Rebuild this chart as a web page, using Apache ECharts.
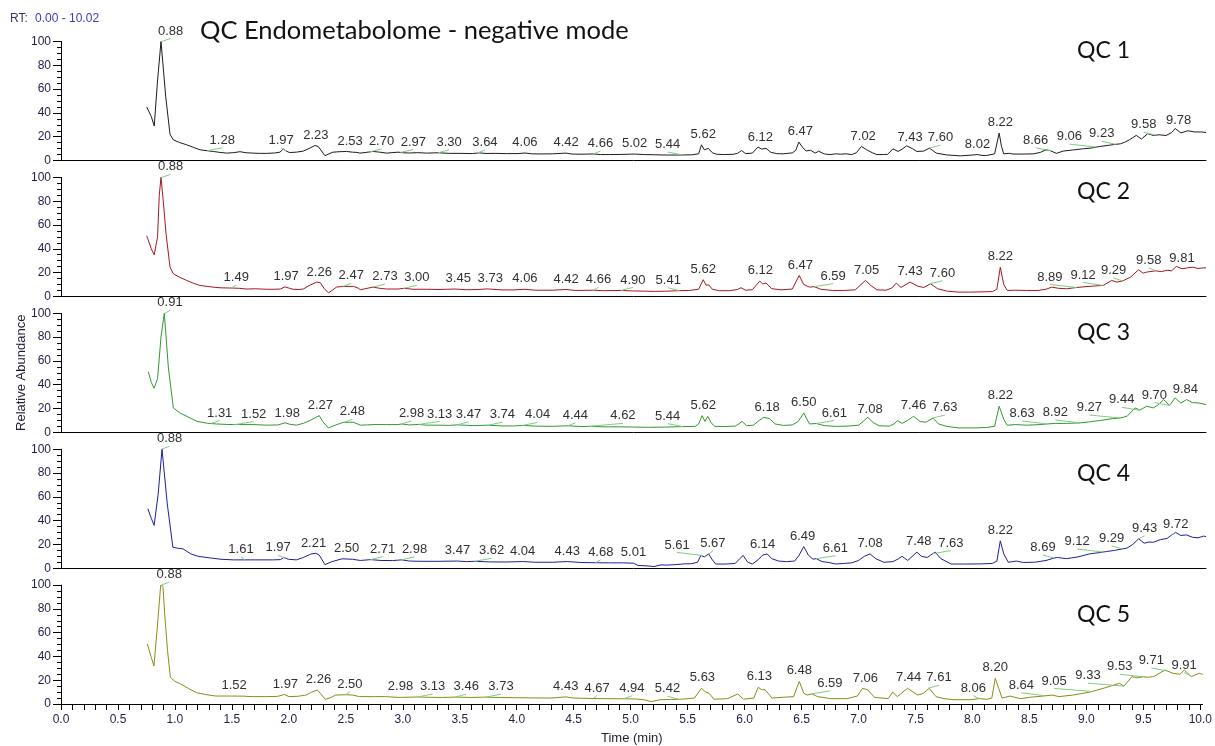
<!DOCTYPE html>
<html>
<head>
<meta charset="utf-8">
<title>QC Endometabolome - negative mode</title>
<script src="https://cdn.jsdelivr.net/npm/echarts@6/dist/echarts.min.js"></script>
<style>
  html, body { margin: 0; padding: 0; background: #ffffff; }
  #chart { width: 1215px; height: 746px; }
</style>
</head>
<body>
<div id="chart"></div>
<script>
// ---------------------------------------------------------------------------
// Chromatogram data: [retention time (min), relative abundance (%)]
// ---------------------------------------------------------------------------
const qc1Trace = [
  [0.75,45],[0.79,37],[0.816,29],[0.843,65],[0.875,100],[0.916,54],[0.954,22],[0.983,17.4],[1.04,15],[1.10,13.2],
  [1.16,11],[1.216,9],[1.28,8.2],[1.333,7.6],[1.39,6.8],[1.45,6.2],[1.51,6.6],[1.566,7.4],[1.62,6.5],[1.68,6.2],
  [1.74,6],[1.80,6],[1.87,6.3],[1.916,7],[1.945,9.6],[1.97,8],[2.0,6.7],[2.06,7],[2.12,7.9],[2.18,10.5],
  [2.222,12.6],[2.25,11.8],[2.28,8],[2.31,4],[2.345,5.6],[2.38,7],[2.44,7.4],[2.50,7.6],[2.55,7],[2.59,6.8],
  [2.616,6.2],[2.67,6.8],[2.73,7.6],[2.79,7],[2.85,6.2],[2.95,7],[2.99,6.5],[3.05,6.3],[3.12,6.6],[3.2,6.2],
  [3.30,6.5],[3.4,6],[3.5,6],[3.6,5.8],[3.66,6.4],[3.72,5.9],[3.8,6],[3.9,5.8],[4.0,5.8],[4.06,6.3],
  [4.12,5.6],[4.2,5.5],[4.3,5.6],[4.42,6.2],[4.47,5.4],[4.55,5.3],[4.66,5.5],[4.72,5],[4.8,5],[4.9,5.1],
  [5.02,5.4],[5.1,5],[5.2,4.8],[5.3,4.6],[5.44,4.6],[5.52,4.8],[5.58,5.6],[5.605,13.2],[5.63,9],[5.665,10.2],
  [5.70,6.5],[5.74,5.2],[5.80,5],[5.88,5.2],[5.92,6],[5.955,8.4],[5.99,5.8],[6.05,6.2],[6.10,11.3],[6.13,9.6],
  [6.17,10.2],[6.21,7],[6.26,5.8],[6.32,5.6],[6.40,6.4],[6.43,8.5],[6.457,15.5],[6.49,11],[6.52,8],[6.56,8.6],
  [6.60,6.2],[6.63,7.8],[6.68,5.5],[6.73,5],[6.78,5.6],[6.82,5.3],[6.87,5.6],[6.92,5],[6.96,6.5],[7.005,11.8],
  [7.05,9],[7.10,6.5],[7.14,5],[7.2,5],[7.235,5.2],[7.28,9.8],[7.325,7.6],[7.36,9.5],[7.40,12.3],[7.45,10],
  [7.49,7.6],[7.55,7.9],[7.60,10.4],[7.66,6.2],[7.75,4.7],[7.87,3.9],[7.98,4.6],[8.02,5],[8.06,4.3],[8.10,4.2],
  [8.17,5.6],[8.21,23],[8.23,12],[8.25,5.6],[8.30,6],[8.33,5.4],[8.42,5.4],[8.51,5.6],[8.57,6.8],[8.62,9],
  [8.66,8.2],[8.71,6],[8.77,7.9],[8.85,8.8],[8.94,9.8],[9.02,10.5],[9.09,11.8],[9.17,12.8],[9.23,13.6],[9.27,14],
  [9.31,15.4],[9.35,17.4],[9.41,21.1],[9.455,18],[9.51,22.6],[9.56,21],[9.61,21.6],[9.67,21],[9.72,23.5],[9.75,26.9],
  [9.80,23.2],[9.86,25],[9.92,24],[9.98,24],[10.02,23.5]
];
const qc2Trace = [
  [0.75,51],[0.79,40],[0.816,35],[0.845,50],[0.86,85],[0.875,100],[0.895,80],[0.92,52],[0.954,24.6],[0.983,19],
  [1.04,16],[1.10,13.4],[1.16,11],[1.216,9.2],[1.28,8.4],[1.33,7.8],[1.40,7.2],[1.50,7],[1.56,6.8],[1.62,6.2],
  [1.70,6.4],[1.80,6],[1.87,6],[1.92,6.2],[1.96,8],[2.0,6.8],[2.03,6],[2.08,5.8],[2.12,6.2],[2.18,9.5],
  [2.237,12],[2.27,11.5],[2.30,7],[2.34,3],[2.38,5.5],[2.41,7.8],[2.47,8.4],[2.56,8.4],[2.60,7],[2.62,5.6],
  [2.66,6.4],[2.73,7.8],[2.79,6.8],[2.85,6.2],[2.95,6.2],[3.00,6.8],[3.08,6],[3.2,6],[3.3,5.8],[3.45,6.2],
  [3.55,5.6],[3.65,5.8],[3.73,6.3],[3.85,5.5],[3.95,5.4],[4.06,6],[4.15,5.2],[4.3,5.2],[4.42,5.8],[4.5,5],
  [4.66,5.2],[4.75,4.8],[4.9,5],[5.0,4.6],[5.1,4.4],[5.2,4.2],[5.3,4.4],[5.41,4.8],[5.5,5],[5.58,6],
  [5.62,14],[5.645,9.5],[5.67,9.6],[5.70,6],[5.76,4.8],[5.85,4.8],[5.92,5.8],[5.95,7.3],[5.99,5.2],[6.05,5.6],
  [6.115,12.9],[6.14,10.5],[6.17,11.2],[6.22,6.5],[6.3,5.5],[6.40,6.2],[6.46,17.6],[6.50,10],[6.55,7.8],[6.59,8.2],
  [6.65,6],[6.75,5],[6.85,5],[6.95,5.5],[7.04,13.4],[7.09,9],[7.14,5.5],[7.22,5.2],[7.27,7],[7.31,11.2],
  [7.35,7.5],[7.43,12],[7.50,8.5],[7.55,7.5],[7.61,10.6],[7.67,6.5],[7.75,4.5],[7.85,3.6],[7.95,3.6],[8.05,3.8],
  [8.15,4],[8.19,6],[8.22,24.6],[8.25,10],[8.28,5],[8.35,5.2],[8.45,5],[8.55,5],[8.62,6],[8.67,7.8],
  [8.73,6.8],[8.80,6.4],[8.89,7.5],[8.97,8.2],[9.05,8.8],[9.12,9.2],[9.195,13.4],[9.24,12],[9.29,13],[9.36,16.2],
  [9.43,22.4],[9.47,19.5],[9.5,20.4],[9.58,21.5],[9.63,20.8],[9.68,22],[9.72,21.5],[9.76,25.2],[9.81,23.2],[9.86,24],
  [9.9,24.6],[9.95,23.5],[10.0,24],[10.02,24]
];
const qc3Trace = [
  [0.764,51],[0.79,42],[0.814,37],[0.845,45],[0.875,80],[0.904,100],[0.939,55],[0.983,20.5],[1.04,16.3],[1.12,12.5],
  [1.19,9.2],[1.28,7.6],[1.36,7],[1.45,6.6],[1.51,6.5],[1.60,6.5],[1.68,6.5],[1.80,6],[1.90,6.2],[1.96,8],
  [2.0,6.8],[2.06,6],[2.12,7.5],[2.18,10],[2.26,14],[2.29,9],[2.34,3.7],[2.40,6],[2.47,8.4],[2.56,8.4],
  [2.62,6],[2.68,6.2],[2.73,6.5],[2.85,6.5],[2.95,6.5],[2.98,7],[3.05,6.2],[3.13,6.6],[3.2,6],[3.3,6],
  [3.4,5.8],[3.47,6.3],[3.6,5.6],[3.74,6],[3.85,5.4],[3.95,5.3],[4.04,5.8],[4.15,5.2],[4.3,5],[4.44,5.5],
  [4.55,4.8],[4.62,5],[4.75,4.6],[4.9,4.6],[5.0,4.4],[5.15,4.2],[5.3,4.4],[5.44,4.8],[5.55,5],[5.58,7],
  [5.61,14],[5.635,9.2],[5.66,13.4],[5.69,8],[5.72,5],[5.8,4.8],[5.9,5.2],[5.93,7],[5.96,9.2],[6.0,5.5],
  [6.06,6],[6.11,10],[6.15,12.6],[6.20,11.5],[6.25,7],[6.32,5.8],[6.40,6.2],[6.45,9],[6.50,16.2],[6.55,7],
  [6.61,7.4],[6.68,5.6],[6.78,5],[6.88,5.2],[6.98,6],[7.03,10],[7.06,12.6],[7.11,8],[7.16,5.5],[7.25,5.2],
  [7.29,7],[7.32,9.8],[7.36,7.5],[7.41,10],[7.46,13.4],[7.52,9],[7.57,8.5],[7.63,12],[7.68,7],[7.75,5],
  [7.85,3.7],[8.0,3.7],[8.1,4],[8.17,5],[8.21,21.9],[8.25,11],[8.28,5.9],[8.35,6.5],[8.45,6],[8.55,6.4],
  [8.63,7],[8.70,7.5],[8.8,7.5],[8.92,7.9],[9.0,8.8],[9.1,10],[9.2,11.5],[9.27,12],[9.33,13.5],[9.40,20.5],
  [9.44,18.5],[9.5,21.9],[9.56,20.5],[9.60,23],[9.65,27.5],[9.70,22.5],[9.75,28.9],[9.8,24.5],[9.85,27.5],[9.9,25],
  [9.95,24.7],[10.02,23.3]
];
const qc4Trace = [
  [0.76,50],[0.79,42],[0.815,36],[0.85,62],[0.884,100],[0.93,54],[0.979,17.6],[1.02,16.8],[1.067,16.3],[1.136,12],
  [1.20,10],[1.30,8.7],[1.40,7.5],[1.51,7],[1.61,7],[1.70,7],[1.85,7],[1.92,7.2],[1.95,9],[1.99,7.5],
  [2.06,7],[2.12,9],[2.19,12],[2.23,12.5],[2.26,11],[2.31,3],[2.37,5.5],[2.46,7.9],[2.55,7.5],[2.62,6.5],
  [2.71,7.2],[2.8,6.5],[2.9,6.4],[2.98,7],[3.05,6],[3.15,5.8],[3.3,5.8],[3.47,6],[3.55,5.5],[3.62,5.8],
  [3.75,5.3],[3.9,5.2],[4.04,5.6],[4.15,5],[4.3,5],[4.43,5.6],[4.55,4.8],[4.68,4.6],[4.8,4.5],[4.92,4.5],
  [5.01,4.2],[5.05,2.3],[5.12,2],[5.19,1.4],[5.25,2.8],[5.3,2.6],[5.38,3],[5.45,3.6],[5.52,3.8],[5.57,5],
  [5.60,10.7],[5.63,9.5],[5.667,12],[5.70,7],[5.73,3.5],[5.82,3.5],[5.9,4],[5.94,8],[5.97,10.7],[6.01,5],
  [6.05,3.5],[6.10,7],[6.14,11],[6.18,12],[6.22,8],[6.28,6],[6.35,5.5],[6.42,6],[6.46,11],[6.50,18.2],
  [6.54,11],[6.58,7.6],[6.61,8],[6.66,5.5],[6.72,4.8],[6.78,3.5],[6.85,4],[6.92,4.5],[6.98,6.5],[7.03,10],
  [7.08,12],[7.13,8],[7.20,5],[7.28,5.5],[7.33,8],[7.36,10],[7.41,6.5],[7.45,10],[7.49,13.5],[7.53,10],
  [7.58,9],[7.61,11],[7.65,13.5],[7.70,8],[7.79,3.5],[7.9,3.5],[8.05,3.6],[8.15,4],[8.19,6],[8.22,23],
  [8.25,12],[8.29,5],[8.36,6],[8.42,4.8],[8.52,5],[8.62,6.5],[8.69,8.5],[8.72,9],[8.8,8],[8.9,9.5],
  [9.0,12],[9.08,13],[9.15,14],[9.22,15],[9.28,16],[9.33,17],[9.38,20],[9.43,24.7],[9.48,21],[9.52,22],
  [9.56,21.8],[9.62,24],[9.68,25],[9.72,28],[9.755,30],[9.8,27.5],[9.85,28],[9.90,26],[9.95,25.5],[10.0,27],
  [10.02,26.5]
];
const qc5Trace = [
  [0.758,50.4],[0.79,40],[0.816,32],[0.85,70],[0.875,100],[0.895,99],[0.91,76],[0.935,45],[0.96,22.4],[1.0,19],
  [1.04,17.4],[1.12,13],[1.19,9.5],[1.28,7.8],[1.36,6.7],[1.50,6.7],[1.60,6.6],[1.68,6.2],[1.80,6.2],[1.90,6.4],
  [1.96,8],[2.0,6.2],[2.08,6.5],[2.15,7.5],[2.20,10],[2.25,11.8],[2.28,8.5],[2.32,3.9],[2.37,5.5],[2.41,7.5],
  [2.50,7.8],[2.56,7.5],[2.62,6.2],[2.75,6.2],[2.85,6.2],[2.95,5.6],[3.0,5.6],[3.13,5.9],[3.25,5.6],[3.35,5.5],
  [3.46,5.8],[3.6,5.5],[3.73,5.8],[3.85,5.4],[4.0,5.3],[4.15,5.1],[4.3,5],[4.43,6],[4.5,5],[4.67,4.6],
  [4.8,4.5],[4.94,4.4],[5.05,4.2],[5.12,3.5],[5.18,2],[5.26,3.6],[5.35,3.8],[5.44,4],[5.56,5],[5.62,13.2],
  [5.66,10],[5.69,9],[5.73,4],[5.85,4.5],[5.94,8.4],[5.99,4],[6.08,5],[6.12,14],[6.15,12],[6.18,12],
  [6.24,5],[6.33,5.6],[6.43,6.2],[6.48,19],[6.52,9],[6.55,7.5],[6.59,8.5],[6.64,6.2],[6.76,4.5],[6.90,4.5],
  [6.99,6.7],[7.035,13.2],[7.08,12],[7.14,5.6],[7.26,4.5],[7.30,10],[7.34,6.2],[7.43,13.2],[7.52,7.5],[7.57,9],
  [7.62,13.2],[7.68,6.2],[7.75,4.5],[7.84,3.6],[7.98,3.6],[8.06,4.5],[8.13,4],[8.17,5],[8.20,21.6],[8.23,13.2],
  [8.26,5],[8.33,6.7],[8.42,4.5],[8.50,5.6],[8.62,6.7],[8.70,7.5],[8.76,6.2],[8.88,7.5],[9.03,10],[9.17,13.8],
  [9.29,17.4],[9.33,15],[9.40,23],[9.45,22],[9.50,23],[9.53,22.5],[9.59,23],[9.69,28.6],[9.76,25.8],[9.82,25],
  [9.86,28.6],[9.92,23],[9.99,25.8],[10.02,25]
];

// Retention times of the annotated peaks
const qc1Peaks = [0.88,1.28,1.97,2.23,2.53,2.70,2.97,3.30,3.64,4.06,4.42,4.66,5.02,5.44,5.62,6.12,6.47,7.02,7.43,7.60,8.02,8.22,8.66,9.06,9.23,9.58,9.78];
const qc2Peaks = [0.88,1.49,1.97,2.26,2.47,2.73,3.00,3.45,3.73,4.06,4.42,4.66,4.90,5.41,5.62,6.12,6.47,6.59,7.05,7.43,7.60,8.22,8.89,9.12,9.29,9.58,9.81];
const qc3Peaks = [0.91,1.31,1.52,1.98,2.27,2.48,2.98,3.13,3.47,3.74,4.04,4.44,4.62,5.44,5.62,6.18,6.50,6.61,7.08,7.46,7.63,8.22,8.63,8.92,9.27,9.44,9.70,9.84];
const qc4Peaks = [0.88,1.61,1.97,2.21,2.50,2.71,2.98,3.47,3.62,4.04,4.43,4.68,5.01,5.61,5.67,6.14,6.49,6.61,7.08,7.48,7.63,8.22,8.69,9.12,9.29,9.43,9.72];
const qc5Peaks = [0.88,1.52,1.97,2.26,2.50,2.98,3.13,3.46,3.73,4.43,4.67,4.94,5.42,5.63,6.13,6.48,6.59,7.06,7.44,7.61,8.06,8.20,8.64,9.05,9.33,9.53,9.71,9.91];

const sampleNames = ['QC 1', 'QC 2', 'QC 3', 'QC 4', 'QC 5'];
const rtRange = [0.00, 10.02];
const timeTickLabels = [0.0,0.5,1.0,1.5,2.0,2.5,3.0,3.5,4.0,4.5,5.0,5.5,6.0,6.5,7.0,7.5,8.0,8.5,9.0,9.5,10.0];
const abundanceRange = [0, 100];

// ---------------------------------------------------------------------------
// Presentation
// ---------------------------------------------------------------------------
const traceColors = ['#1c1c1c', '#a3191e', '#2f982f', '#1e1e9c', '#8b8b16'];
const leaderColor = '#7fcd7f';
const axisFont = '"Liberation Sans", Arial, sans-serif';
const headFont = 'Lato, "Open Sans", sans-serif';

// Horizontal offset (px) of a peak label that was moved off its apex; a
// green leader joins the apex to the moved label.
const labelShift = [
  {0.88: 9, 1.28: 15, 1.97: -5, 2.70: 12, 2.97: 13, 3.30: 11, 3.64: 8, 4.66: 7, 5.44: -15, 7.60: 11,
   8.66: -15, 9.06: -27, 9.23: -14, 9.58: -12},
  {0.88: 9, 1.49: 5, 2.47: 8, 2.73: 12, 3.00: 13, 3.45: 3, 3.73: 3, 4.66: 5, 4.90: 12, 5.41: -11, 6.59: 19,
   7.60: 13, 8.89: -27, 9.12: -20, 9.29: -9, 9.58: -7},
  {0.91: 5, 1.31: 9, 1.52: 19, 2.48: 8, 2.98: 10, 3.13: 21, 3.47: 11, 3.74: 14, 4.04: 15, 4.44: 7,
   4.62: 34, 5.44: -15, 6.61: 18, 7.63: 12, 8.63: -25, 8.92: -25, 9.27: -31, 9.44: -18, 9.70: -15},
  {0.88: 8, 1.61: -4, 1.97: -8, 2.71: 12, 2.98: 13, 3.62: 17, 4.68: 5, 5.61: -25, 5.67: 4, 6.61: 19,
   7.48: 3, 7.63: 18, 8.69: -11, 9.12: -26, 9.29: -11, 9.43: 6, 9.72: 4},
  {0.88: 8, 2.50: 4, 3.13: 15, 3.46: 11, 3.73: 15, 4.67: 4, 4.94: 8, 5.42: -11, 6.59: 18, 7.61: 11,
   8.06: -6, 8.64: -24, 9.05: -38, 9.33: -36, 9.53: -27, 9.71: -16, 9.91: -6}
];

const traces = [qc1Trace, qc2Trace, qc3Trace, qc4Trace, qc5Trace];
const peaks = [qc1Peaks, qc2Peaks, qc3Peaks, qc4Peaks, qc5Peaks];

const panelLeft = 61;
const panelWidth = 1145;
const panelTop = 41.5;
const panelStep = 135.9;
const panelHeight = 119;

// Height of the trace at a retention time (linear between samples)
function traceAt(trace, t) {
  for (let i = 1; i < trace.length; i++) {
    if (trace[i][0] >= t) {
      const a = trace[i - 1], b = trace[i];
      const f = (t - a[0]) / (b[0] - a[0]);
      return a[1] + f * (b[1] - a[1]);
    }
  }
  return trace[trace.length - 1][1];
}
// Apex height near a labelled retention time
function apexAt(trace, rt) {
  let best = traceAt(trace, rt);
  trace.forEach(p => { if (Math.abs(p[0] - rt) <= 0.02 && p[1] > best) best = p[1]; });
  return best;
}

function renderPeakLabel(params, api) {
  const rt = api.value(0);
  const apex = api.coord([rt, api.value(1)]);
  const dx = api.value(2);
  const tip = [apex[0] + dx, apex[1] - 3];
  const children = [];
  if (Math.abs(dx) >= 4) {
    children.push({
      type: 'line',
      shape: { x1: apex[0], y1: apex[1], x2: tip[0], y2: tip[1] },
      style: { stroke: leaderColor, lineWidth: 1 }
    });
  }
  children.push({
    type: 'text',
    x: tip[0],
    y: tip[1] - 1,
    style: {
      text: rt.toFixed(2),
      align: 'center',
      verticalAlign: 'bottom',
      fontSize: 13,
      fontFamily: axisFont,
      fill: '#303030'
    }
  });
  return { type: 'group', children: children };
}

const minorTimeTicks = [];
for (let i = 0; i <= 100; i++) minorTimeTicks.push(i / 10);

const grids = [], xAxes = [], yAxes = [], series = [];
traces.forEach((trace, i) => {
  const last = i === traces.length - 1;
  grids.push({ left: panelLeft, width: panelWidth, top: panelTop + panelStep * i, height: panelHeight });
  xAxes.push({
    type: 'value', gridIndex: i, min: rtRange[0], max: rtRange[1],
    axisLine: { show: true, onZero: false, lineStyle: { color: '#000', width: 1 } },
    axisTick: last ? { show: true, length: 6, customValues: minorTimeTicks, lineStyle: { color: '#000' } } : { show: false },
    axisLabel: last ? {
      show: true, customValues: timeTickLabels, margin: 10,
      formatter: v => v.toFixed(1), fontSize: 12, fontFamily: axisFont, color: '#1e1e48'
    } : { show: false },
    splitLine: { show: false },
    name: last ? 'Time (min)' : '',
    nameLocation: 'middle', nameGap: 28,
    nameTextStyle: { fontSize: 13, fontFamily: axisFont, color: '#1e1e30' }
  });
  yAxes.push({
    type: 'value', gridIndex: i, min: abundanceRange[0], max: abundanceRange[1], interval: 20,
    axisLine: { show: true, lineStyle: { color: '#000', width: 1 } },
    axisTick: { show: true, length: 8, lineStyle: { color: '#000' } },
    minorTick: { show: true, splitNumber: 4, length: 4, lineStyle: { color: '#000' } },
    axisLabel: { margin: 10, fontSize: 12, fontFamily: axisFont, color: '#1e1e48' },
    splitLine: { show: false }
  });
  series.push({
    type: 'line', name: sampleNames[i], xAxisIndex: i, yAxisIndex: i,
    data: trace, showSymbol: false, symbol: 'none', silent: true,
    lineStyle: { color: traceColors[i], width: 1 }, z: 2
  });
  series.push({
    type: 'custom', xAxisIndex: i, yAxisIndex: i, silent: true, z: 3,
    encode: { x: 0, y: 1 },
    data: peaks[i].map(rt => [rt, apexAt(trace, rt), labelShift[i][rt] || 0]),
    renderItem: renderPeakLabel
  });
});

const graphics = [
  { type: 'text', x: 10, y: 19, style: { text: 'RT:', fontSize: 12, fontFamily: axisFont, fill: '#34345e', verticalAlign: 'middle' } },
  { type: 'text', x: 35, y: 19, style: { text: rtRange[0].toFixed(2) + ' - ' + rtRange[1].toFixed(2), fontSize: 12, fontFamily: axisFont, fill: '#3b3bb8', verticalAlign: 'middle' } },
  { type: 'text', x: 200, y: 31, style: { text: 'QC Endometabolome - negative mode', fontSize: 25.5, fontFamily: headFont, fill: '#111', verticalAlign: 'middle' } },
  // shared y-axis title, centred on the middle panel
  { type: 'text', x: 21, y: panelTop + panelStep * 2 + panelHeight / 2, rotation: Math.PI / 2,
    style: { text: 'Relative Abundance', fontSize: 13, fontFamily: axisFont, fill: '#1e1e30', align: 'center', verticalAlign: 'middle' } }
];
const nameCenters = [51, 192, 333, 474, 615];
sampleNames.forEach((name, i) => {
  graphics.push({ type: 'text', x: 1077, y: nameCenters[i], style: { text: name, fontSize: 23, fontFamily: headFont, fill: '#111', verticalAlign: 'middle' } });
});

const chart = echarts.init(document.getElementById('chart'), null, { renderer: 'canvas' });
chart.setOption({
  animation: false,
  backgroundColor: '#ffffff',
  grid: grids,
  xAxis: xAxes,
  yAxis: yAxes,
  series: series,
  graphic: graphics
});
</script>
</body>
</html>
